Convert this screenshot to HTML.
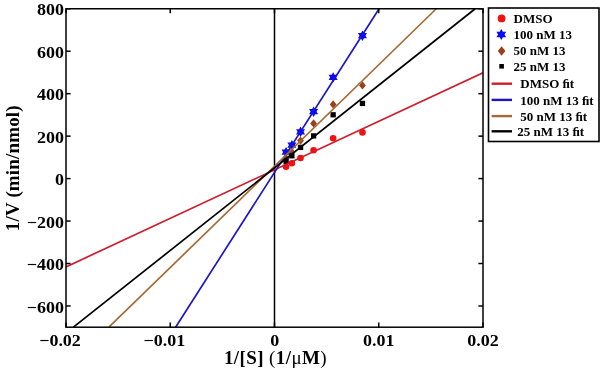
<!DOCTYPE html>
<html><head><meta charset="utf-8"><style>
html,body{margin:0;padding:0;background:#fff;width:600px;height:371px;overflow:hidden;}
svg{display:block;font-family:"Liberation Serif",serif;will-change:transform;}
</style></head><body>
<svg width="600" height="371" viewBox="0 0 600 371"><clipPath id="c"><rect x="66.0" y="8.75" width="417.0" height="318.45"/></clipPath>
<line x1="274.50" y1="8.75" x2="274.50" y2="327.2" stroke="#000" stroke-width="1.5"/>
<circle cx="286.08" cy="166.80" r="3.3" fill="#f21010"/>
<circle cx="291.88" cy="163.20" r="3.3" fill="#f21010"/>
<circle cx="300.56" cy="158.00" r="3.3" fill="#f21010"/>
<circle cx="313.59" cy="150.20" r="3.3" fill="#f21010"/>
<circle cx="333.14" cy="138.20" r="3.3" fill="#f21010"/>
<circle cx="362.46" cy="132.40" r="3.3" fill="#f21010"/>
<path d="M286.08 146.90L290.58 154.70L281.58 154.70ZM286.08 157.30L281.58 149.50L290.58 149.50Z" fill="#0a0af5"/>
<path d="M291.88 139.90L296.38 147.70L287.38 147.70ZM291.88 150.30L287.38 142.50L296.38 142.50Z" fill="#0a0af5"/>
<path d="M300.56 126.60L305.06 134.40L296.06 134.40ZM300.56 137.00L296.06 129.20L305.06 129.20Z" fill="#0a0af5"/>
<path d="M313.59 106.50L318.09 114.30L309.09 114.30ZM313.59 116.90L309.09 109.10L318.09 109.10Z" fill="#0a0af5"/>
<path d="M333.14 72.20L337.64 80.00L328.64 80.00ZM333.14 82.60L328.64 74.80L337.64 74.80Z" fill="#0a0af5"/>
<path d="M362.46 30.50L366.96 38.30L357.96 38.30ZM362.46 40.90L357.96 33.10L366.96 33.10Z" fill="#0a0af5"/>
<path d="M286.08 154.10L289.48 158.30L286.08 162.50L282.68 158.30Z" fill="#98401a"/>
<path d="M291.88 147.70L295.28 151.90L291.88 156.10L288.48 151.90Z" fill="#98401a"/>
<path d="M300.56 136.40L303.96 140.60L300.56 144.80L297.16 140.60Z" fill="#98401a"/>
<path d="M313.59 119.20L316.99 123.40L313.59 127.60L310.19 123.40Z" fill="#98401a"/>
<path d="M333.14 100.20L336.54 104.40L333.14 108.60L329.74 104.40Z" fill="#98401a"/>
<path d="M362.46 81.20L365.86 85.40L362.46 89.60L359.06 85.40Z" fill="#98401a"/>
<rect x="283.43" y="158.65" width="5.3" height="5.3" fill="#000"/>
<rect x="289.23" y="153.15" width="5.3" height="5.3" fill="#000"/>
<rect x="297.91" y="144.75" width="5.3" height="5.3" fill="#000"/>
<rect x="310.94" y="133.25" width="5.3" height="5.3" fill="#000"/>
<rect x="330.49" y="112.15" width="5.3" height="5.3" fill="#000"/>
<rect x="359.81" y="100.75" width="5.3" height="5.3" fill="#000"/>
<g clip-path="url(#c)" stroke-width="1.7" fill="none">
<line x1="66" y1="266.9" x2="483" y2="72.7" stroke="#d01c2c"/>
<line x1="175.6" y1="327.2" x2="379.1" y2="8.75" stroke="#1c16c4"/>
<line x1="108.9" y1="327.2" x2="436.3" y2="8.75" stroke="#a66a34"/>
<line x1="73.4" y1="327.2" x2="475.2" y2="8.75" stroke="#000"/>
</g>
<rect x="66.0" y="8.75" width="417.0" height="318.45" fill="none" stroke="#000" stroke-width="1.5"/>
<line x1="66.0" y1="305.97" x2="70.6" y2="305.97" stroke="#000" stroke-width="1.5"/>
<line x1="483.0" y1="305.97" x2="478.4" y2="305.97" stroke="#000" stroke-width="1.5"/>
<line x1="66.0" y1="263.51" x2="70.6" y2="263.51" stroke="#000" stroke-width="1.5"/>
<line x1="483.0" y1="263.51" x2="478.4" y2="263.51" stroke="#000" stroke-width="1.5"/>
<line x1="66.0" y1="221.05" x2="70.6" y2="221.05" stroke="#000" stroke-width="1.5"/>
<line x1="483.0" y1="221.05" x2="478.4" y2="221.05" stroke="#000" stroke-width="1.5"/>
<line x1="66.0" y1="178.59" x2="70.6" y2="178.59" stroke="#000" stroke-width="1.5"/>
<line x1="483.0" y1="178.59" x2="478.4" y2="178.59" stroke="#000" stroke-width="1.5"/>
<line x1="66.0" y1="136.13" x2="70.6" y2="136.13" stroke="#000" stroke-width="1.5"/>
<line x1="483.0" y1="136.13" x2="478.4" y2="136.13" stroke="#000" stroke-width="1.5"/>
<line x1="66.0" y1="93.67" x2="70.6" y2="93.67" stroke="#000" stroke-width="1.5"/>
<line x1="483.0" y1="93.67" x2="478.4" y2="93.67" stroke="#000" stroke-width="1.5"/>
<line x1="66.0" y1="51.21" x2="70.6" y2="51.21" stroke="#000" stroke-width="1.5"/>
<line x1="483.0" y1="51.21" x2="478.4" y2="51.21" stroke="#000" stroke-width="1.5"/>
<line x1="66.0" y1="8.75" x2="70.6" y2="8.75" stroke="#000" stroke-width="1.5"/>
<line x1="483.0" y1="8.75" x2="478.4" y2="8.75" stroke="#000" stroke-width="1.5"/>
<line x1="66.00" y1="327.2" x2="66.00" y2="322.59999999999997" stroke="#000" stroke-width="1.5"/>
<line x1="66.00" y1="8.75" x2="66.00" y2="13.35" stroke="#000" stroke-width="1.5"/>
<line x1="170.25" y1="327.2" x2="170.25" y2="322.59999999999997" stroke="#000" stroke-width="1.5"/>
<line x1="170.25" y1="8.75" x2="170.25" y2="13.35" stroke="#000" stroke-width="1.5"/>
<line x1="274.50" y1="327.2" x2="274.50" y2="322.59999999999997" stroke="#000" stroke-width="1.5"/>
<line x1="274.50" y1="8.75" x2="274.50" y2="13.35" stroke="#000" stroke-width="1.5"/>
<line x1="378.75" y1="327.2" x2="378.75" y2="322.59999999999997" stroke="#000" stroke-width="1.5"/>
<line x1="378.75" y1="8.75" x2="378.75" y2="13.35" stroke="#000" stroke-width="1.5"/>
<line x1="483.00" y1="327.2" x2="483.00" y2="322.59999999999997" stroke="#000" stroke-width="1.5"/>
<line x1="483.00" y1="8.75" x2="483.00" y2="13.35" stroke="#000" stroke-width="1.5"/>
<g font-family="Liberation Serif" font-weight="bold" font-size="18"><text transform="translate(64.0 312.57) scale(1 0.92)" text-anchor="end">−600</text><text transform="translate(64.0 270.11) scale(1 0.92)" text-anchor="end">−400</text><text transform="translate(64.0 227.65) scale(1 0.92)" text-anchor="end">−200</text><text transform="translate(64.0 185.19) scale(1 0.92)" text-anchor="end">0</text><text transform="translate(64.0 142.73) scale(1 0.92)" text-anchor="end">200</text><text transform="translate(64.0 100.27) scale(1 0.92)" text-anchor="end">400</text><text transform="translate(64.0 57.81) scale(1 0.92)" text-anchor="end">600</text><text transform="translate(64.0 15.35) scale(1 0.92)" text-anchor="end">800</text><text transform="translate(60.0 346.0) scale(1 0.92)" text-anchor="middle">−0.02</text><text transform="translate(164.4 346.0) scale(1 0.92)" text-anchor="middle">−0.01</text><text transform="translate(274.8 346.0) scale(1 0.92)" text-anchor="middle">0</text><text transform="translate(378.8 346.0) scale(1 0.92)" text-anchor="middle">0.01</text><text transform="translate(483 346.0) scale(1 0.92)" text-anchor="middle">0.02</text></g>
<text x="275.5" y="363.5" text-anchor="middle" letter-spacing="0.4" font-family="Liberation Serif" font-weight="bold" font-size="19">1/[S] <tspan font-weight="normal">(</tspan>1/<tspan font-weight="normal">μ</tspan>M<tspan font-weight="normal">)</tspan></text>
<text transform="translate(19 168.2) rotate(-90)" text-anchor="middle" letter-spacing="0.16" font-family="Liberation Serif" font-weight="bold" font-size="19">1/V (min/nmol)</text>
<rect x="488.5" y="8" width="110.5" height="133.5" fill="#fff" stroke="#000" stroke-width="1.6"/>
<circle cx="501.60" cy="18.40" r="3.9" fill="#f21010"/>
<path d="M501.30 28.90L506.15 37.30L496.45 37.30ZM501.30 40.10L496.45 31.70L506.15 31.70Z" fill="#0a0af5"/>
<path d="M501.60 46.20L505.40 51.00L501.60 55.80L497.80 51.00Z" fill="#98401a"/>
<rect x="499.30" y="64.00" width="4.6" height="4.6" fill="#000"/>
<line x1="491.6" y1="83.7" x2="512" y2="83.7" stroke="#d01c2c" stroke-width="2.4"/>
<line x1="491.6" y1="99.9" x2="512" y2="99.9" stroke="#1c16c4" stroke-width="2.4"/>
<line x1="491.6" y1="116.1" x2="512" y2="116.1" stroke="#a66a34" stroke-width="2.4"/>
<line x1="491.6" y1="131.3" x2="512" y2="131.3" stroke="#000" stroke-width="2.4"/>
<g font-family="Liberation Serif" font-weight="bold" font-size="13"><text x="513.5" y="22.8">DMSO</text><text x="513.5" y="38.8">100 nM 13</text><text x="513.5" y="55.4">50 nM 13</text><text x="513.5" y="70.9">25 nM 13</text><text x="520.3" y="88.3">DMSO ﬁt</text><text x="520.3" y="104.5">100 nM 13 ﬁt</text><text x="520.3" y="120.7">50 nM 13 ﬁt</text><text x="517.3" y="135.9">25 nM 13 ﬁt</text></g></svg>
</body></html>
